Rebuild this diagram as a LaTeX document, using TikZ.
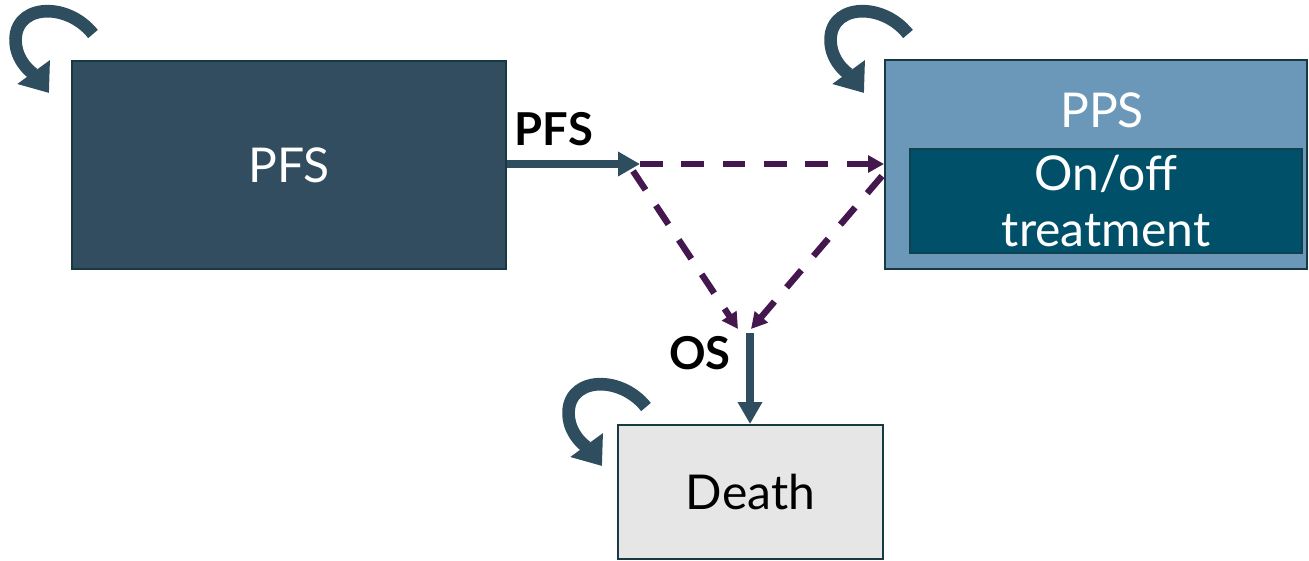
\documentclass[tikz,border=0pt]{standalone}
\usepackage{fontspec}
\setmainfont{Lato}
\usetikzlibrary{arrows.meta}
\definecolor{pfsfill}{HTML}{324D5F}
\definecolor{ppsfill}{HTML}{6B98B8}
\definecolor{innerfill}{HTML}{01506A}
\definecolor{deathfill}{HTML}{E6E6E6}
\definecolor{edgecol}{HTML}{173A42}
\definecolor{arrowcol}{HTML}{2E4D5F}
\definecolor{purp}{HTML}{45174F}
\tikzset{
  box/.style={draw=edgecol, line width=1.5pt, inner sep=0pt},
  bigtext/.style={font=\fontsize{36}{42}\selectfont},
  labeltext/.style={font=\fontsize{34}{40}\selectfont\bfseries, text=black},
  solidarrow/.style={draw=arrowcol, line width=5.5pt, -{Triangle[length=16.5pt,width=17.5pt]}},
  dasharrow/.style={draw=purp, line width=4.8pt, dash pattern=on 17pt off 14pt, -{Triangle[length=12pt,width=12.5pt]}},
  loopar/.pic={
    \draw[arrowcol, line width=9.5pt, -{Triangle[length=19.5pt,width=29pt]}]
      (93,34) .. controls (66,0) and (10,4) .. (16,46) .. controls (19,66) and (38,78) .. (49,93);
  }
}
\begin{document}
\begin{tikzpicture}[x=0.75pt, y=-0.75pt]
\useasboundingbox (0,0) rectangle (1309,560);
% boxes
\node[box, fill=pfsfill, minimum width=325.5pt, minimum height=156pt, text=white, bigtext] (pfs) at (289,165) {PFS};
\node[box, fill=ppsfill, minimum width=316.5pt, minimum height=156.75pt] (pps) at (1096,164.5) {};
\node[bigtext, text=white] (ppslabel) at (1102,110) {PPS};
\node[draw=edgecol!70!innerfill, line width=1pt, fill=innerfill, minimum width=294pt, minimum height=78pt, text=white, bigtext, align=center, inner sep=0pt] (inner) at (1106,201) {On/off\\treatment};
\node[box, fill=deathfill, minimum width=198.75pt, minimum height=100.5pt, text=black, bigtext] (death) at (750.5,492) {Death};
% junction points
\coordinate (j) at (640,164);
\coordinate (osL) at (738,329);
\coordinate (osR) at (751,329);
\coordinate (os) at (750,333);
% connectors
\draw[solidarrow] (pfs.east |- j) -- (j);
\draw[dasharrow] (j) -- (pps.west |- j);
\draw[dasharrow] (633,171) -- (osL);
\draw[dasharrow] (882,176) -- (osR);
\draw[solidarrow] (os) -- (death.north -| os);
% labels
\node[labeltext] (pfslab) at (554,129) {PFS};
\node[labeltext] (oslab) at (700,353) {OS};
% self loops
\pic at (0,0) {loopar};
\pic at (815,0) {loopar};
\pic at (553,373) {loopar};
\end{tikzpicture}
\end{document}
